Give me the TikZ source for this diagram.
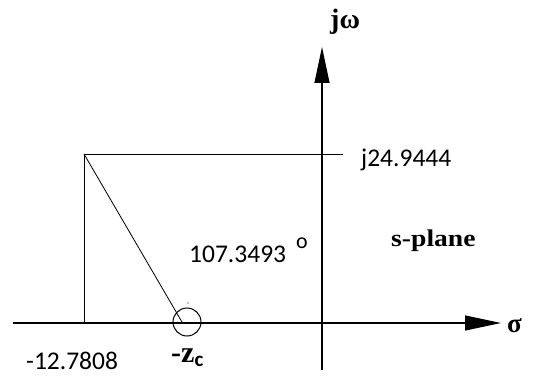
\documentclass[tikz,border=0pt]{standalone}
\usepackage{fontspec}
\setmainfont{Carlito}
\newfontfamily\serifb{Liberation Serif}
\usetikzlibrary{arrows.meta}
\begin{document}
\begin{tikzpicture}[x=1pt,y=-1pt,
  axis/.style={line width=1.2pt},
  thin/.style={line width=0.8pt},
  numlbl/.style={font=\fontsize{25.5}{27}\selectfont, inner sep=0pt},
  serlbl/.style={font=\serifb\bfseries\fontsize{24}{26}\selectfont, inner sep=0pt},
  tip/.style={-{Triangle[length=36pt,width=15pt]}}]
\useasboundingbox (0,0) rectangle (552,385);
\coordinate (xl) at (13,323);
\coordinate (xr) at (501,323);
\coordinate (yb) at (322,370);
\coordinate (yt) at (322,47);
\coordinate (tl) at (84,154);
\coordinate (tr) at (343,154);
\coordinate (bl) at (84,323);
\coordinate (cend) at (182,322);
\draw[axis,tip] (xl) -- (xr);
\draw[axis,tip] (yb) -- (yt);
\draw[thin] (bl) -- (tl) -- (tr);
\draw[thin] (tl) -- (cend);
\node[circle,draw,line width=1pt,minimum size=28pt,inner sep=0pt] (zc) at (187,322) {};
\fill (188,303) circle (0.7pt);
\node[serlbl,anchor=west,font=\serifb\bfseries\fontsize{27}{28}\selectfont] (sig) at (507,326) {σ};
\node[serlbl,anchor=west,font=\serifb\bfseries\fontsize{28}{30}\selectfont] (jw) at (330,22) {jω};
\node[numlbl,anchor=west] (jv) at (361,160) {j24.9444};
\node[numlbl,anchor=west] (ang) at (189,254) {107.3493};
\node[numlbl,font=\fontsize{22}{24}\selectfont] (deg) at (302,243) {o};
\node[serlbl,anchor=west,xscale=1.15] (sp) at (391,241) {s-plane};
\node[numlbl,anchor=west] (re) at (26,361) {-12.7808};
\node[serlbl,anchor=west,font=\serifb\bfseries\fontsize{30}{32}\selectfont] (zl) at (171,358) {-z$_{\mathbf{c}}$};
\end{tikzpicture}
\end{document}
